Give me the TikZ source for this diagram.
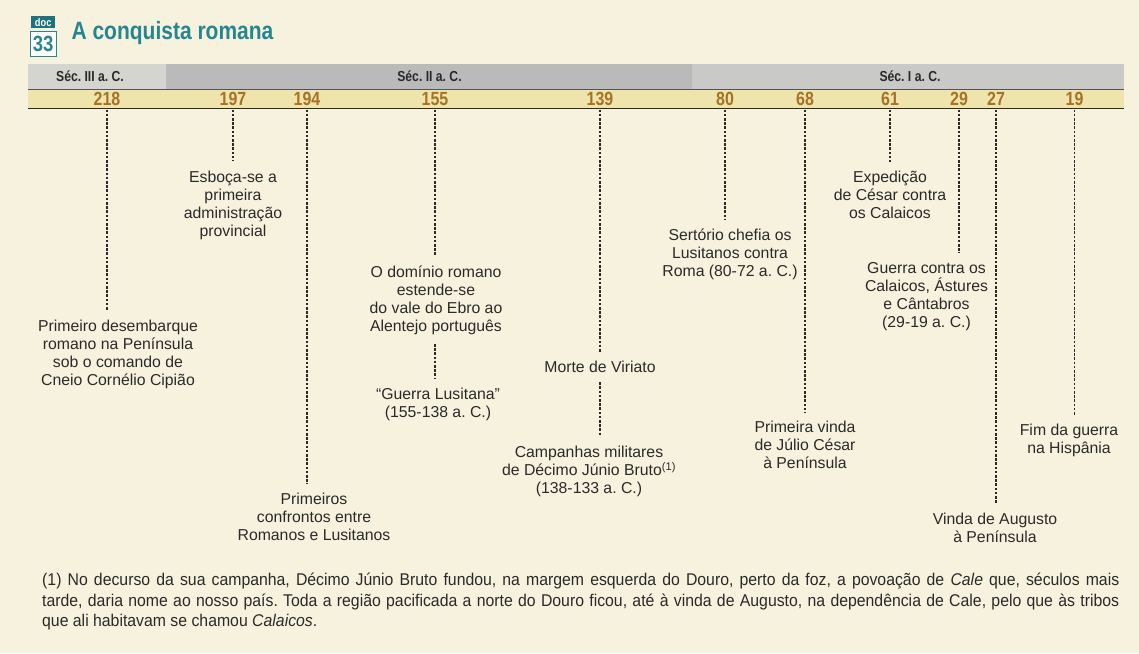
\documentclass[tikz,border=0pt]{standalone}
\usepackage{fontspec}
\setmainfont{Liberation Sans}
\newfontfamily\condfont[FakeStretch=0.84]{Liberation Sans}
\newfontfamily\notefont[FakeStretch=0.93]{Liberation Sans}
\usepackage{xcolor}
\usepackage{tikz}
\usetikzlibrary{positioning}
\definecolor{paper}{RGB}{246,242,222}
\definecolor{tealhead}{RGB}{38,134,144}
\definecolor{bargold}{RGB}{238,228,172}
\definecolor{yrcol}{RGB}{166,114,38}
\definecolor{secA}{RGB}{212,212,209}
\definecolor{secB}{RGB}{186,186,186}
\definecolor{secC}{RGB}{201,201,200}
\definecolor{ink}{RGB}{42,42,42}
\frenchspacing

\begin{document}
\begin{tikzpicture}[x=1pt,y=-1pt,
		ev/.style={align=center,anchor=north,inner sep=3pt,outer ysep=6.5pt,text=ink,font=\fontsize{15.8}{18}\selectfont},
		yr/.style={anchor=base,text=yrcol,font=\condfont\fontsize{19}{20}\selectfont\bfseries},
		sec/.style={anchor=base,text=ink,font=\condfont\fontsize{14.5}{16}\selectfont\bfseries},
		dl/.style={draw=ink,line width=1.1pt,dash pattern=on 2.6pt off 1.6pt}]
			\useasboundingbox (0,0) rectangle (1139,653);
			\fill[paper] (0,0) rectangle (1139,653);

			\node[fill=tealhead!85!black,text=white,minimum width=24pt,minimum height=12pt,inner sep=0pt,anchor=north west,font=\condfont\fontsize{11}{11}\selectfont\bfseries] (doc) at (31,16) {doc};
			\node[draw=tealhead,line width=0.8pt,fill=white,text=tealhead,minimum width=26pt,minimum height=25pt,inner sep=0pt,below=2.5pt of doc,font=\condfont\fontsize{22}{22}\selectfont\bfseries] (num) {33};
			\node[anchor=base west,text=tealhead,font=\condfont\fontsize{25}{28}\selectfont\bfseries] (title) at (68,39) {A conquista romana};

			\fill[secA] (28,64) rectangle (166,89);
			\fill[secB] (166,64) rectangle (692,89);
			\fill[secC] (692,64) rectangle (1124,89);
			\fill[bargold] (28,89.5) rectangle (1124,108.5);
			\draw[ink!80,line width=0.8pt] (28,89.5) -- (1124,89.5);
			\draw[ink,line width=1pt] (28,108.5) -- (1124,108.5);

			\node[sec] (s3) at (90,81.5) {Séc. III a. C.};
			\node[sec] (s2) at (429.5,81.5) {Séc. II a. C.};
			\node[sec] (s1) at (910,81.5) {Séc. I a. C.};

			\foreach \yx/\yn in {107/218,233/197,307/194,435/155,600/139,725/80,805/68,890/61,959/29,996/27,1074.5/19}{
				\node[yr] (y\yn) at (\yx,105.5) {\yn};
				\coordinate (b\yn) at (\yx,109.5);
			}

			\node[ev] (e218) at (118,310.4) {Primeiro desembarque\\romano na Península\\sob o comando de\\Cneio Cornélio Cipião};
			\node[ev] (e197) at (233,161.4) {Esboça-se a\\primeira\\administração\\provincial};
			\node[ev] (e194) at (314,484) {Primeiros\\confrontos entre\\Romanos e Lusitanos};
			\node[ev] (e155) at (436,256) {O domínio romano\\estende-se\\do vale do Ebro ao\\Alentejo português};
			\node[ev] (g155) at (438,379) {“Guerra Lusitana”\\(155-138 a. C.)};
			\node[ev] (e139) at (600,351.5) {Morte de Viriato};
			\node[ev] (c139) at (589,436.5) {Campanhas militares\\de Décimo Júnio Bruto\textsuperscript{(1)}\\(138-133 a. C.)};
			\node[ev] (e80) at (730,219.5) {Sertório chefia os\\Lusitanos contra\\Roma (80-72 a. C.)};
			\node[ev] (e68) at (805,412) {Primeira vinda\\de Júlio César\\à Península};
			\node[ev] (e61) at (890,162) {Expedição\\de César contra\\os Calaicos};
			\node[ev] (e29) at (926.5,253) {Guerra contra os\\Calaicos, Ástures\\e Cântabros\\(29-19 a. C.)};
			\node[ev] (e27) at (995,504) {Vinda de Augusto\\à Península};
			\node[ev] (e19) at (1069,415) {Fim da guerra\\na Hispânia};

			\draw[dl] (b218) -- (b218 |- e218.north);
			\draw[dl] (b197) -- (b197 |- e197.north);
			\draw[dl] (b194) -- (b194 |- e194.north);
			\draw[dl] (b155) -- (b155 |- e155.north);
			\draw[dl] (b155 |- e155.south) -- (b155 |- g155.north);
			\draw[dl] (b139) -- (b139 |- e139.north);
			\draw[dl] (b139 |- e139.south) -- (b139 |- c139.north);
			\draw[dl] (b80) -- (b80 |- e80.north);
			\draw[dl] (b68) -- (b68 |- e68.north);
			\draw[dl] (b61) -- (b61 |- e61.north);
			\draw[dl] (b29) -- (b29 |- e29.north);
			\draw[dl] (b27) -- (b27 |- e27.north);
			\draw[dl] (b19) -- (b19 |- e19.north);

			\node[anchor=north west,inner sep=0pt,text width=1077pt,align=justify,text=ink,font=\notefont\fontsize{17}{20.5}\selectfont] (note) at (42,573) {(1) No decurso da sua campanha, Décimo Júnio Bruto fundou, na margem esquerda do Douro, perto da foz, a povoação de \emph{Cale} que, séculos mais\linebreak tarde, daria nome ao nosso país. Toda a região pacificada a norte do Douro ficou, até à vinda de Augusto, na dependência de Cale, pelo que às tribos\linebreak que ali habitavam se chamou \emph{Calaicos}.};
		\end{tikzpicture}
\end{document}
